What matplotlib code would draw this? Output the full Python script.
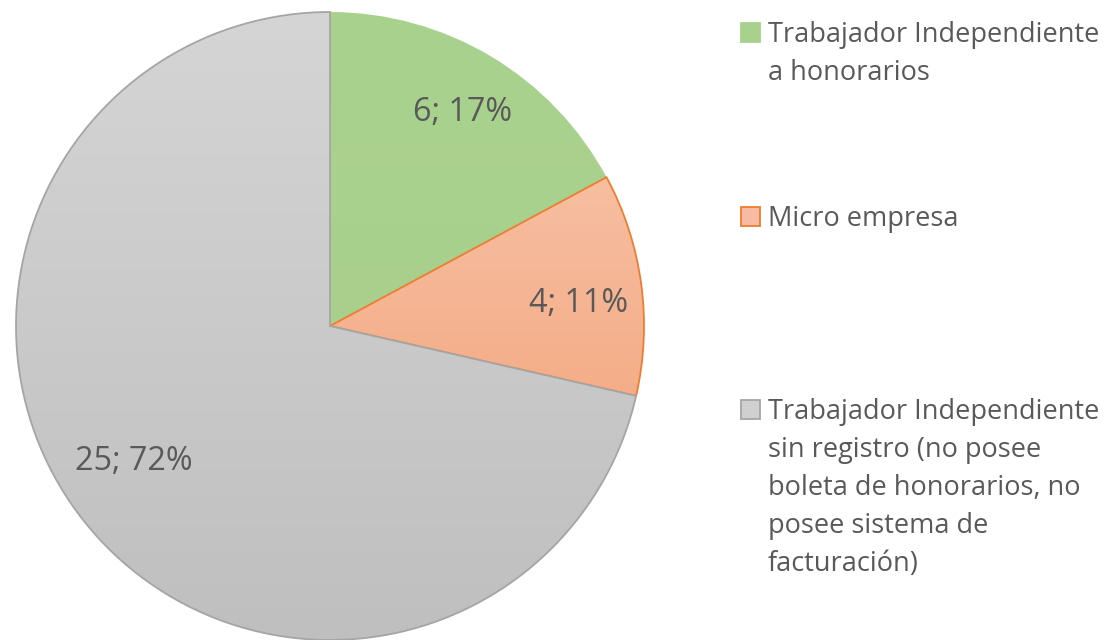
import matplotlib
matplotlib.use("Agg")
import matplotlib.pyplot as plt
import numpy as np
from matplotlib.colors import LinearSegmentedColormap
from matplotlib.patches import Rectangle

categories = [
    "Trabajador Independiente\na honorarios",
    "Micro empresa",
    "Trabajador Independiente\nsin registro (no posee\nboleta de honorarios, no\nposee sistema de\nfacturación)",
]
values = [6, 4, 25]
pct_labels = ["17%", "11%", "72%"]

grad_top = ["#aad28f", "#f8cbb4", "#d5d5d5"]
grad_bot = ["#a6cf8a", "#f29a6c", "#bfbfbf"]
edge_colors = ["none", "#ed7d31", "#a5a5a5"]
legend_face = ["#a9d18e", "#f6bba0", "#d0d0d0"]
legend_edge = ["#a9d18e", "#ed7d31", "#a5a5a5"]
text_color = "#595959"
font = "Open Sans"

W, H = 1109, 640
fig = plt.figure(figsize=(W / 100, H / 100), dpi=100)
fig.patch.set_facecolor("white")

cx, cy, R = 330, 326, 314
ax = fig.add_axes([(cx - R) / W, (H - cy - R) / H, 2 * R / W, 2 * R / H])

wedges, _ = ax.pie(values, startangle=90, counterclock=False, radius=1,
                   wedgeprops=dict(linewidth=1.3), frame=True)
ax.set_xlim(-1, 1)
ax.set_ylim(-1, 1)
ax.set_aspect("equal")
ax.axis("off")

grad = np.linspace(0, 1, 256).reshape(-1, 1)
for i, w in enumerate(wedges):
    cmap = LinearSegmentedColormap.from_list("g%d" % i, [grad_top[i], grad_bot[i]])
    im = ax.imshow(grad, cmap=cmap, extent=(-1, 1, -1, 1), origin="upper",
                   aspect="auto", zorder=1 + 2 * i, interpolation="bilinear")
    im.set_clip_path(w)
    w.set_facecolor("none")
    w.set_edgecolor(edge_colors[i])
    w.set_zorder(2 + 2 * i)

# data labels
total = sum(values)
dists = [0.80, 0.795, 0.76]
offs = [-1.0, -2.5, -4.0]
ang = 90.0
for i, v in enumerate(values):
    span = 360.0 * v / total
    mid = ang - span / 2 + offs[i]
    ang -= span
    x = dists[i] * np.cos(np.deg2rad(mid))
    y = dists[i] * np.sin(np.deg2rad(mid))
    ax.text(x, y, f"{v}; {pct_labels[i]}", ha="center", va="center",
            fontsize=23.3, color=text_color, family=font, zorder=20)

# legend
leg_base = [42, 226, 419]
line_step = 38
msz = 19
for i, lab in enumerate(categories):
    b = leg_base[i]
    fig.patches.append(Rectangle((741 / W, 1 - b / H), msz / W, msz / H,
                                 transform=fig.transFigure, facecolor=legend_face[i],
                                 edgecolor=legend_edge[i], linewidth=1.3))
    for k, line in enumerate(lab.split("\n")):
        fig.text(768 / W, 1 - (b + k * line_step) / H, line, ha="left",
                 va="baseline", fontsize=19.5, color=text_color, family=font)

fig.savefig("out.png", dpi=100)
